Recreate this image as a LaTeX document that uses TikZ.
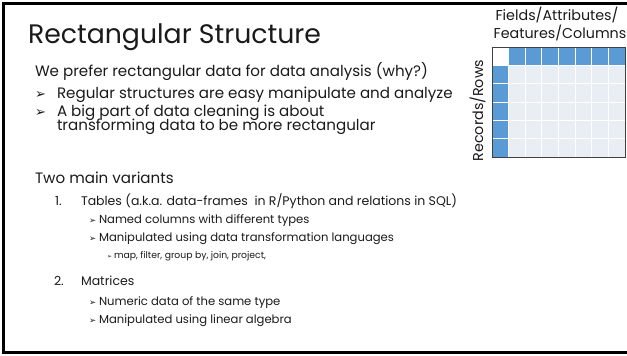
\documentclass[tikz,border=0pt]{standalone}
\usepackage{fontspec}
\setmainfont{Poppins}
\newfontfamily\symfont{DejaVu Sans}
\definecolor{cellblue}{HTML}{5B9BD5}
\definecolor{cellpale}{HTML}{E9EDF4}
\definecolor{gridedge}{HTML}{404040}
\definecolor{ink}{HTML}{1A1A1A}

% pick a font size so that a sample line gets a given width (in pt)
\newcommand{\sizefor}[3]{%
  \setbox0\hbox{\fontsize{10}{10}\selectfont #3}%
  \pgfmathsetmacro#1{10*#2/\wd0}}
\newcommand{\fs}[1]{\fontsize{#1}{#1}\selectfont}
\newcommand{\arr}{{\symfont ➢}}

\sizefor{\sTitle}{293}{Rectangular Structure}
\sizefor{\sA}{393}{We prefer rectangular data for data analysis (why?)}
\sizefor{\sB}{376}{Tables (a.k.a. data-frames\ \ in R/Python and relations in SQL)}
\sizefor{\sC}{295}{Manipulated using data transformation languages}
\sizefor{\sD}{152}{map, filter, group by, join, project,}
\sizefor{\sLab}{123}{Fields/Attributes/}

\begin{document}
\begin{tikzpicture}[x=1pt,y=-1pt,
  txt/.style={anchor=base west, inner sep=0pt, outer sep=0pt, text=ink},
  lvlA/.style={txt, font=\fs{\sA}},
  lvlB/.style={txt, font=\fs{\sB}},
  lvlC/.style={txt, font=\fs{\sC}},
  lvlD/.style={txt, font=\fs{\sD}},
  markA/.style={txt, font=\fs{13}},
  markC/.style={txt, font=\fs{8.5}},
  markD/.style={txt, font=\fs{6}},
  lab/.style={txt, anchor=base, font=\fs{\sLab}},
  cellbox/.style={draw=white, line width=0.8pt},
]
\useasboundingbox (0,0) rectangle (627,356);

% slide frame (right side runs off the page)
\draw[line width=3pt, black] (640,3.5) -- (3.5,3.5) -- (3.5,352) -- (640,352);

% title and first block
\node[txt, font=\fs{\sTitle}] (title) at (28,43) {Rectangular Structure};
\node[lvlA] (pref) at (35,76) {We prefer rectangular data for data analysis (why?)};
\node[markA] (b1m) at (35,98) {\arr};
\node[lvlA] (b1) at (57,98) {Regular structures are easy manipulate and analyze};
\node[markA] (b2m) at (35,116.5) {\arr};
\node[lvlA] (b2) at (57,116.5) {A big part of data cleaning is about};
\node[lvlA] (b2b) at (57,130) {transforming data to be more rectangular};

% second block
\node[lvlA] (two) at (35,183) {Two main variants};
\node[lvlB] (n1) at (55,205) {1.};
\node[lvlB] (tables) at (81,205) {Tables (a.k.a. data-frames\ \ in R/Python and relations in SQL)};
\node[markC] (t1m) at (89,223) {\arr};
\node[lvlC] (t1) at (99,223) {Named columns with different types};
\node[markC] (t2m) at (89,241) {\arr};
\node[lvlC] (t2) at (99,241) {Manipulated using data transformation languages};
\node[markD] (t3m) at (107,258) {\arr};
\node[lvlD] (t3) at (114,258) {map, filter, group by, join, project,};
\node[lvlB] (n2) at (54,285) {2.};
\node[lvlB] (matr) at (81,285) {Matrices};
\node[markC] (m1m) at (89,305) {\arr};
\node[lvlC] (m1) at (99,305) {Numeric data of the same type};
\node[markC] (m2m) at (89,323) {\arr};
\node[lvlC] (m2) at (99,323) {Manipulated using linear algebra};

% table grid: 8 columns x 6 rows, header row and key column in blue
\def\gx{492}\def\gy{47}\def\cw{16.625}\def\ch{18.33}
\foreach \c in {0,...,7}{
  \foreach \r in {0,...,5}{
    \pgfmathsetmacro{\xa}{\gx+\c*\cw}
    \pgfmathsetmacro{\ya}{\gy+\r*\ch}
    \pgfmathsetmacro{\xb}{\xa+\cw}
    \pgfmathsetmacro{\yb}{\ya+\ch}
    \ifnum\c=0
      \ifnum\r=0 \def\fillc{white}\else\def\fillc{cellblue}\fi
    \else
      \ifnum\r=0 \def\fillc{cellblue}\else\def\fillc{cellpale}\fi
    \fi
    \filldraw[cellbox, fill=\fillc] (\xa,\ya) rectangle (\xb,\yb);
  }
}
\node[draw=gridedge, line width=0.8pt, inner sep=0pt, outer sep=0pt,
  minimum width=133pt, minimum height=110pt, anchor=north west] (grid) at (\gx,\gy) {};

% axis labels
\node[lab] (fields) at (557,20) {Fields/Attributes/};
\node[lab] (feats) at (560,38) {Features/Columns};
\node[lab, rotate=90] (recs) at (483,110.5) {Records/Rows};
\end{tikzpicture}
\end{document}
